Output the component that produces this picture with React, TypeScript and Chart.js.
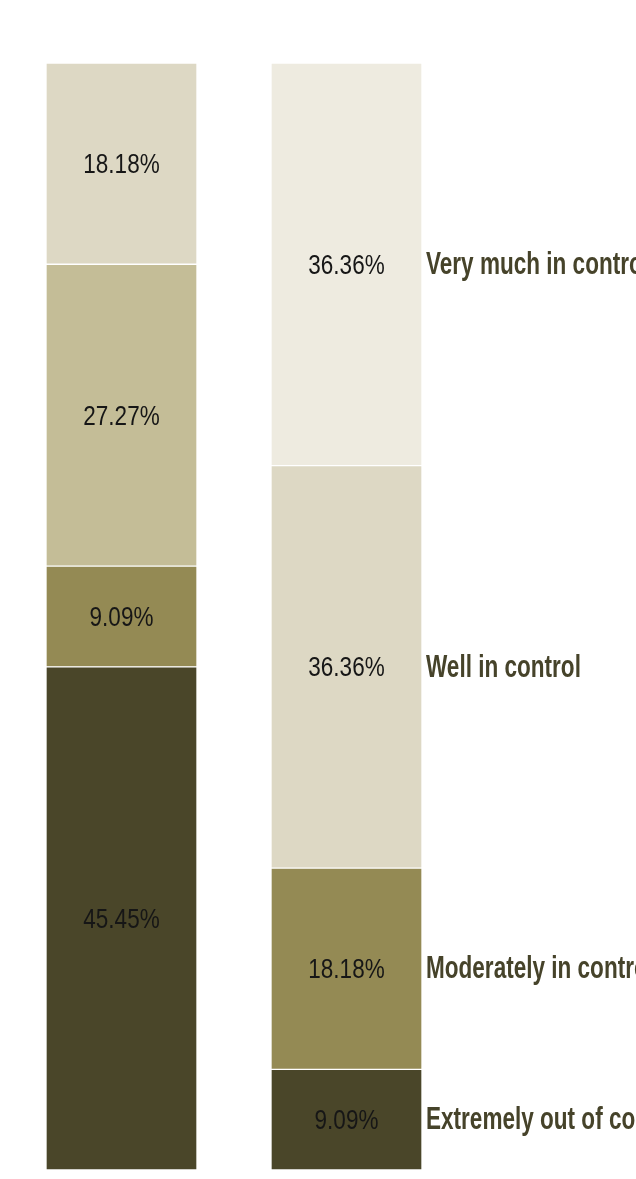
import React, { useEffect, useRef } from "react";
import { Chart, registerables } from "chart.js";

Chart.register(...registerables);

const categories = ["Pre", "Post"];
const seriesNames = [
  "Extremely out of control",
  "Moderately in control",
  "Well in control",
  "Very much in control",
];
const extremelyOut = [45.45, 9.09];
const moderately = [9.09, 18.18];
const wellIn = [27.27, 36.36];
const veryMuch = [18.18, 36.36];
const seriesColors = [
  ["#4a4629", "#4a4629"],
  ["#948a54", "#948a54"],
  ["#c4bd97", "#ddd8c4"],
  ["#ddd8c4", "#eeebe0"],
];

const labelPlugin = {
  id: "segLabels",
  afterDatasetsDraw(chart: any) {
    const ctx = chart.ctx;
    ctx.save();
    chart.data.datasets.forEach((ds: any, i: number) => {
      const meta = chart.getDatasetMeta(i);
      meta.data.forEach((el: any, j: number) => {
        const v = ds.data[j];
        if (!v) return;
        const cy = (el.y + el.base) / 2;
        ctx.save();
        ctx.translate(el.x, cy + 2);
        ctx.scale(0.9, 1.08);
        ctx.font = "25px 'Liberation Sans', Arial, sans-serif";
        ctx.fillStyle = "#161616";
        ctx.textAlign = "center";
        ctx.textBaseline = "middle";
        ctx.fillText(v.toFixed(2) + "%", 0, 0);
        ctx.restore();
        if (j === categories.length - 1) {
          ctx.save();
          ctx.translate(el.x + el.width / 2 + 4, cy + 1);
          ctx.scale(0.835, 1.17);
          ctx.font = "bold 27px 'Liberation Sans', Arial, sans-serif";
          ctx.fillStyle = "#46432a";
          ctx.textAlign = "left";
          ctx.textBaseline = "middle";
          ctx.fillText(ds.label, 0, 0);
          ctx.restore();
        }
      });
    });
    ctx.restore();
  },
};

export default function App() {
  const ref = useRef<HTMLCanvasElement>(null);
  useEffect(() => {
    if (!ref.current) return;
    const values = [extremelyOut, moderately, wellIn, veryMuch];
    const chart = new Chart(ref.current, {
      type: "bar",
      data: {
        labels: categories,
        datasets: values.map((d, i) => ({
          label: seriesNames[i],
          data: d,
          backgroundColor: seriesColors[i],
          borderColor: "#ffffff",
          borderWidth: 1,
          borderSkipped: false,
          barThickness: 151,
        })),
      },
      options: {
        responsive: false,
        animation: false,
        layout: { padding: { left: 1, right: 177, top: 55, bottom: 8 } },
        plugins: { legend: { display: false }, tooltip: { enabled: false } },
        scales: {
          x: {
            stacked: true,
            grid: { display: false, drawTicks: false },
            border: { display: false },
            ticks: {
              padding: 6,
              color: "#444444",
              font: { family: "'Liberation Sans', Arial, sans-serif", size: 23 },
            },
            afterFit: (s: any) => {
              s.height = 30;
            },
          },
          y: {
            stacked: true,
            display: false,
            min: 0,
            max: 99.99,
          },
        },
      },
      plugins: [labelPlugin],
    });
    return () => chart.destroy();
  }, []);
  return (
    <div style={{ width: 628, height: 1200 }}>
      <style>{"html{overflow:hidden} body{margin:8px 0 8px 8px}"}</style>
      <canvas ref={ref} width={628} height={1200} style={{ width: 628, height: 1200, display: "block" }} />
    </div>
  );
}
